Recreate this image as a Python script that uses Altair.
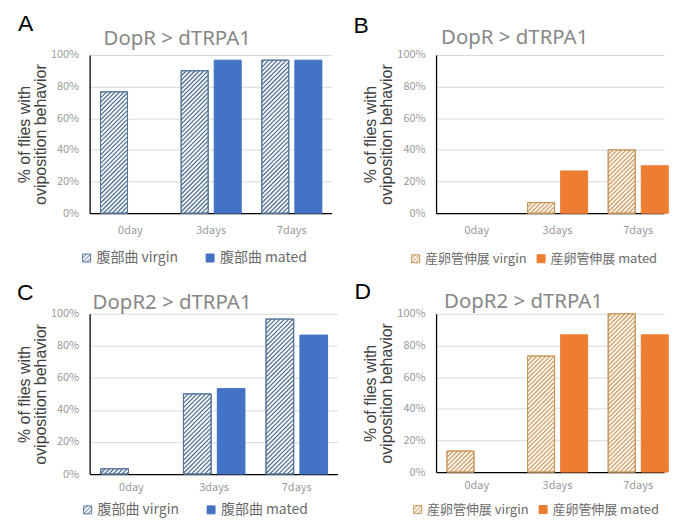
import json
import altair as alt
import pandas as pd

# ---------------- data ----------------
categories = ["0day", "3days", "7days"]
states = ["virgin", "mated"]
letters = ["A", "B", "C", "D"]
panel_titles = ["DopR > dTRPA1", "DopR > dTRPA1", "DopR2 > dTRPA1", "DopR2 > dTRPA1"]
behaviours = ["腹部曲", "産卵管伸展", "腹部曲", "産卵管伸展"]
y_axis_title = ["% of flies with", "oviposition behavior"]

a_virgin = [76.7, 90.0, 96.7]
a_mated = [0.0, 96.7, 96.7]
b_virgin = [0.0, 6.7, 40.0]
b_mated = [0.0, 26.7, 30.0]
c_virgin = [3.3, 50.0, 96.7]
c_mated = [0.0, 53.3, 86.7]
d_virgin = [13.3, 73.3, 100.0]
d_mated = [0.0, 86.7, 86.7]

virgin_values = [a_virgin, b_virgin, c_virgin, d_virgin]
mated_values = [a_mated, b_mated, c_mated, d_mated]

# ---------------- styles / layout ----------------
BLUE = {"solid": "#4472C4", "hatch": "#4a6b8e", "bg": "#f6f8fb", "edge": "#55759a"}
ORANGE = {"solid": "#ED7D31", "hatch": "#cc9a60", "bg": "#fdf6ee", "edge": "#c8955b"}
palettes = [BLUE, ORANGE, BLUE, ORANGE]

BAR_OFF = 0.135   # start of first bar inside a category band (band units)
BAR_W = 0.335     # bar width (band units)
BAR_GAP = 0.075   # gap between the two bars (band units)
HATCH_STEP = 4.4  # px between hatch lines (horizontal)
HATCH_PATH = "M-1,-1H1V1H-1Z M-1,1L1,-1 M-1,0L0,-1 M0,1L1,0"

layouts = [
    dict(width=243, band=81, height=159, letter_dx=-72, letter_dy=-31, title_dx=14, title_dy=-16,
         legend_x=-10, legend_y=197, col_pad=25, label_size=14, label_limit=160, xpad=11),
    dict(width=229, band=81, height=159, letter_dx=-83, letter_dy=-29, title_dx=5, title_dy=-17,
         legend_x=-27, legend_y=198, col_pad=8, label_size=13, label_limit=108, xpad=11),
    dict(width=249, band=83, height=161, letter_dx=-73, letter_dy=-21, title_dx=3, title_dy=-11,
         legend_x=-9, legend_y=190, col_pad=25, label_size=14, label_limit=160, xpad=8),
    dict(width=229, band=81, height=159, letter_dx=-82, letter_dy=-22, title_dx=8, title_dy=-12,
         legend_x=-25, legend_y=190, col_pad=8, label_size=13, label_limit=108, xpad=8),
]

LABEL_FONT = "Noto Sans CJK JP"


def make_panel(k):
    lay = layouts[k]
    pal = palettes[k]
    beh = behaviours[k]
    W, H = lay["width"], lay["height"]
    ppu = float(lay["band"])
    labels = [f"{beh} {s}" for s in states]

    rows = []
    for i, cat in enumerate(categories):
        for j, s in enumerate(states):
            vals = virgin_values[k] if s == "virgin" else mated_values[k]
            x0 = i + BAR_OFF + j * (BAR_W + BAR_GAP)
            rows.append({"category": cat, "series": labels[j], "state": s,
                         "x0": x0, "x1": x0 + BAR_W, "value": vals[i] / 100.0})
    bars = pd.DataFrame(rows)
    bars = bars[bars["value"] > 0].reset_index(drop=True)
    virg = bars[bars["state"] == "virgin"].reset_index(drop=True)

    segs = []
    for r in virg.itertuples():
        X0 = r.x0 * ppu
        Wb = BAR_W * ppu
        Hb = r.value * H
        c = -Wb + HATCH_STEP / 2
        while c < Hb:
            xs = max(0.0, -c)
            xe = min(Wb, Hb - c)
            if xe - xs > 0.3:
                segs.append({"x0": (X0 + xs) / ppu, "value": (xs + c) / H,
                             "x1": (X0 + xe) / ppu, "v2": (xe + c) / H})
            c += HATCH_STEP
    hatch = pd.DataFrame(segs)

    xscale = alt.Scale(domain=[0, W / ppu], nice=False, zero=False)
    yscale = alt.Scale(domain=[0, 1], nice=False)

    x_axis = alt.Axis(values=[0.5, 1.5, 2.5],
                      labelExpr=json.dumps(categories) + "[floor(datum.value)]",
                      title=None, grid=False, ticks=False, domainColor="#000000",
                      domainWidth=1.3, labelColor="#9a9a9a", labelFontSize=11,
                      labelFont=LABEL_FONT, labelPadding=lay["xpad"])
    y_axis = alt.Axis(values=[0, 0.2, 0.4, 0.6, 0.8, 1.0], format=".0%",
                      title=y_axis_title, titleFont="Liberation Sans", titleFontSize=16,
                      titleFontWeight="normal", titleColor="#404040", titleLineHeight=16,
                      titlePadding=2, grid=True, gridColor="#d9d9d9", ticks=False,
                      domainColor="#000000", domainWidth=1.3, labelColor="#9a9a9a",
                      labelFontSize=11, labelFont=LABEL_FONT, labelPadding=11)

    X = alt.X("x0:Q", scale=xscale, axis=x_axis)
    Y = alt.Y("value:Q", scale=yscale, axis=y_axis)

    legend = alt.Legend(orient="none", legendX=lay["legend_x"], legendY=lay["legend_y"],
                        direction="horizontal", title=None, symbolType=HATCH_PATH,
                        symbolSize=64, symbolStrokeWidth=1, labelFont=LABEL_FONT,
                        labelFontSize=lay["label_size"], labelLimit=lay["label_limit"],
                        labelColor="#6a6a6a", columnPadding=lay["col_pad"], labelOffset=3)

    bar_layer = alt.Chart(bars).mark_rect(strokeWidth=1).encode(
        x=X, x2="x1:Q", y=Y, y2=alt.datum(0),
        fill=alt.Fill("series:N", scale=alt.Scale(domain=labels, range=[pal["bg"], pal["solid"]]),
                      legend=legend),
        stroke=alt.Stroke("series:N", scale=alt.Scale(domain=labels, range=[pal["edge"], pal["solid"]]),
                          legend=legend),
    )

    hatch_layer = alt.Chart(hatch).mark_rule(strokeWidth=1.15, color=pal["hatch"], strokeCap="butt").encode(
        x=X, x2="x1:Q", y=Y, y2="v2:Q",
    )

    outline_layer = alt.Chart(virg).mark_rect(filled=False, stroke=pal["edge"], strokeWidth=1).encode(
        x=X, x2="x1:Q", y=Y, y2=alt.datum(0),
    )

    letter_layer = alt.Chart(pd.DataFrame({"t": [letters[k]]})).mark_text(
        align="left", baseline="middle", fontSize=23, font="Liberation Sans", color="#000000"
    ).encode(text="t:N", x=alt.value(lay["letter_dx"]), y=alt.value(lay["letter_dy"]))

    title_layer = alt.Chart(pd.DataFrame({"t": [panel_titles[k]]})).mark_text(
        align="left", baseline="middle", fontSize=20.5, font="Noto Sans", color="#878787"
    ).encode(text="t:N", x=alt.value(lay["title_dx"]), y=alt.value(lay["title_dy"]))

    return alt.layer(bar_layer, hatch_layer, outline_layer, letter_layer, title_layer).properties(
        width=W, height=H)


panels = [make_panel(k) for k in range(4)]

chart = alt.concat(
    *panels, columns=2, spacing={"row": 99, "column": 99}, bounds="flush", align="all"
).resolve_scale(
    fill="independent", stroke="independent", x="independent", y="independent"
).properties(
    padding={"left": 8, "top": 3, "right": 0, "bottom": 0}
).configure_view(stroke="transparent")

chart.save("out.html", embed_options={"renderer": "svg", "actions": False})
